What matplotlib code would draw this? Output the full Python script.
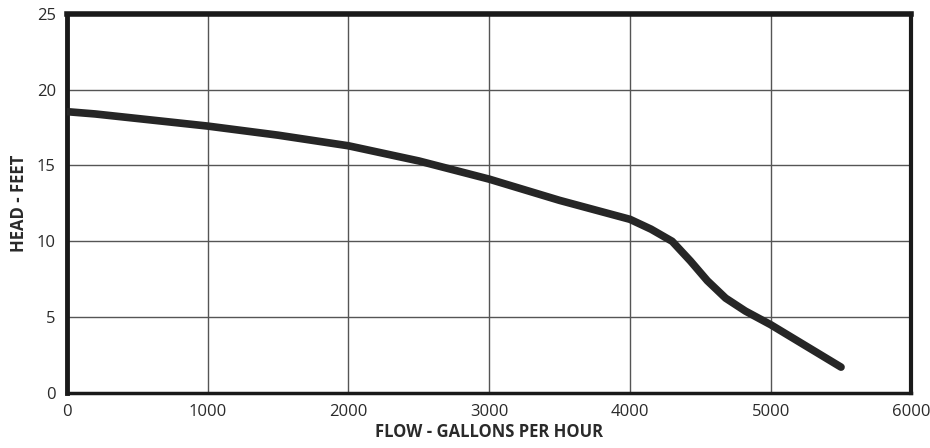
import matplotlib.pyplot as plt

# pump curve
flow = [0, 200, 1000, 1500, 2000, 2500, 3000, 3500, 4000, 4150, 4300, 4430, 4550, 4680, 4820, 5000, 5500]
head = [18.55, 18.4, 17.6, 17.0, 16.3, 15.3, 14.1, 12.7, 11.45, 10.8, 10.0, 8.7, 7.4, 6.25, 5.4, 4.5, 1.7]

x_ticks = [0, 1000, 2000, 3000, 4000, 5000, 6000]
y_ticks = [0, 5, 10, 15, 20, 25]

plt.rcParams['font.family'] = ['Liberation Sans Narrow', 'Open Sans', 'DejaVu Sans']

fig = plt.figure(figsize=(9.3, 4.48), dpi=100)
ax = fig.add_axes([0.072, 0.123, 0.908, 0.846])

ax.plot(flow, head, color='#262626', linewidth=5.5, solid_capstyle='round',
        solid_joinstyle='round', zorder=3)

ax.set_xlim(0, 6000)
ax.set_ylim(0, 25)
ax.set_xticks(x_ticks)
ax.set_yticks(y_ticks)
ax.grid(True, color='#555555', linewidth=1.0)
ax.tick_params(length=0, labelsize=12, colors='#2a2a2a', pad=8)

for side, w in [('top', 4), ('left', 3.5), ('right', 3), ('bottom', 2.5)]:
    ax.spines[side].set_linewidth(w)
    ax.spines[side].set_color('#1a1a1a')

ax.set_xlabel('FLOW - GALLONS PER HOUR', fontsize=12, fontweight='bold', color='#2a2a2a', labelpad=2)
ax.set_ylabel('HEAD - FEET', fontsize=12, fontweight='bold', color='#2a2a2a', labelpad=6)

fig.savefig('out.png', dpi=100)
